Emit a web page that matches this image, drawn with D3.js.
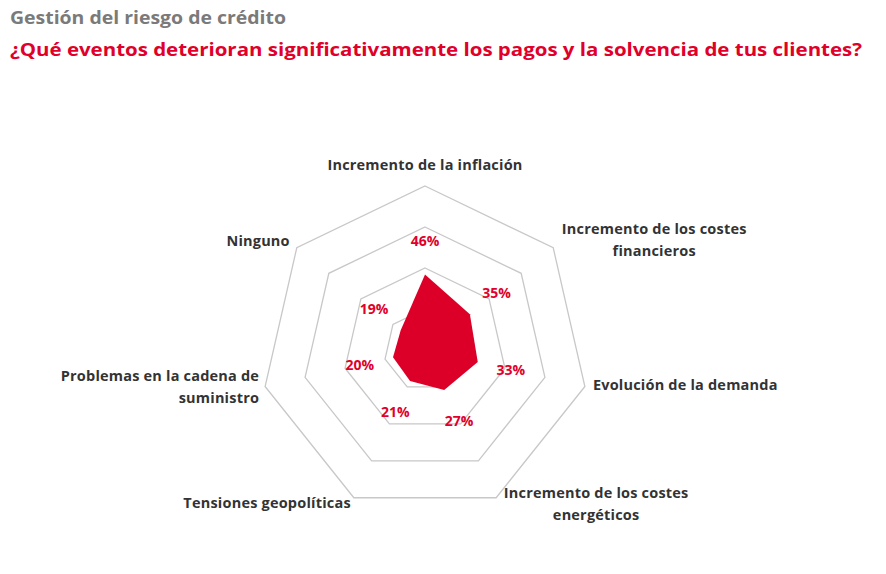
<!DOCTYPE html>
<html><head><meta charset="utf-8">
<script src="https://cdn.jsdelivr.net/npm/d3@7"></script>
<style>body{margin:0;background:#fff;font-family:"Open Sans",sans-serif}</style>
</head><body>
<script>
var categories = ["Incremento de la inflación", "Incremento de los costes|financieros", "Evolución de la demanda",
  "Incremento de los costes|energéticos", "Tensiones geopolíticas", "Problemas en la cadena de|suministro", "Ninguno"];
var values = [46, 35, 33, 27, 21, 20, 19];
var ringTicks = [25, 50, 75, 100];

// label placement: offset from outer vertex, anchor
var labelPos = [[0, -16, "middle"], [101, -14, "middle"], [8, 4, "start"], [100, 0, "middle"],
  [-3, 10, "end"], [-6, -5, "end"], [-7, -2, "end"]];

var W = 886, H = 574, cx = 425, cy = 350;
var svg = d3.select("body").append("svg").attr("width", W).attr("height", H);

svg.append("text").attr("x", 10).attr("y", 24).text("Gestión del riesgo de crédito")
  .attr("fill", "#7a7a7a").attr("font-weight", 700).attr("font-size", 17)
  .attr("textLength", 276).attr("lengthAdjust", "spacingAndGlyphs");
svg.append("text").attr("x", 10).attr("y", 56)
  .text("¿Qué eventos deterioran significativamente los pagos y la solvencia de tus clientes?")
  .attr("fill", "#e0002a").attr("font-weight", 700).attr("font-size", 18)
  .attr("textLength", 852).attr("lengthAdjust", "spacingAndGlyphs");

var r = d3.scaleLinear().domain([0, 100]).range([0, 164]);
var n = categories.length;
var ang = i => i * 2 * Math.PI / n;
var pt = (i, v) => [cx + r(v) * Math.sin(ang(i)), cy - r(v) * Math.cos(ang(i))];
var line = d3.line().curve(d3.curveLinearClosed);

svg.selectAll(".ring").data(ringTicks).enter().append("path")
  .attr("d", t => line(d3.range(n).map(i => pt(i, t))))
  .attr("fill", "none").attr("stroke", "#c8c8c8").attr("stroke-width", 1.3);

svg.append("path").attr("d", line(values.map((v, i) => pt(i, v))))
  .attr("fill", "#dc0028");

svg.selectAll(".val").data(values).enter().append("text")
  .attr("x", (v, i) => cx + (r(v) + 34) * Math.sin(ang(i)))
  .attr("y", (v, i) => cy - (r(v) + 34) * Math.cos(ang(i)) + 5)
  .attr("text-anchor", "middle").attr("font-size", 14).attr("font-weight", 700)
  .attr("fill", "#e0002a").text(v => v + "%");

categories.forEach(function(c, i) {
  var p = pt(i, 100), lp = labelPos[i];
  var t = svg.append("text").attr("text-anchor", lp[2]).attr("font-size", 14.5)
    .attr("font-weight", 700).attr("fill", "#333").attr("letter-spacing", 0.2);
  c.split("|").forEach(function(s, k) {
    t.append("tspan").attr("x", p[0] + lp[0]).attr("y", p[1] + lp[1] + k * 22).text(s);
  });
});
</script>
</body></html>
